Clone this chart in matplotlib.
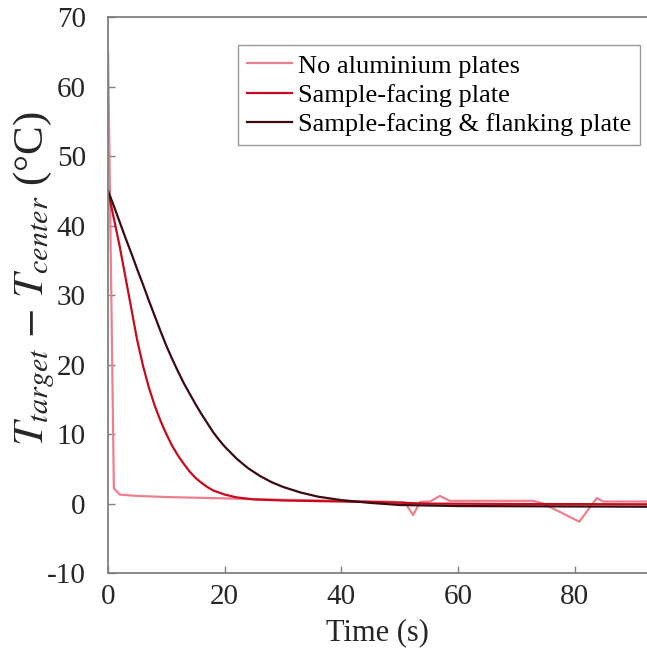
import matplotlib
matplotlib.use("Agg")
import matplotlib.pyplot as plt

plt.rcParams['font.family'] = ['Liberation Serif', 'DejaVu Serif']
plt.rcParams['mathtext.fontset'] = 'stix'
plt.rcParams['axes.unicode_minus'] = False

# values
t_none = [0, 1, 2, 5, 10, 20, 30, 40, 47, 50.9, 52.3, 53.5, 55.2, 56.9, 58.6,
          72.9, 74.6, 80.8, 83.8, 84.9, 93]
dT_none = [65, 2.2, 1.3, 1.1, 0.95, 0.75, 0.55, 0.4, 0.3, 0.2, -1.65, 0.25, 0.3,
           1.1, 0.4, 0.4, 0.0, -2.6, 0.8, 0.3, 0.3]

t_facing = [0, 1, 2, 3, 4, 5, 6, 7, 8, 9, 10, 11, 12, 13, 14, 15, 16, 17, 18,
            20, 22, 25, 30, 40, 47, 55, 70, 93]
dT_facing = [45, 41, 37, 32.5, 28, 23.5, 19.8, 16.7, 14.1, 11.9, 10.0, 8.3,
             6.9, 5.7, 4.6, 3.7, 3.0, 2.4, 1.9, 1.3, 0.9, 0.6, 0.45, 0.3, 0.2,
             0.0, -0.05, -0.1]

t_flank = [0, 1, 2, 3, 4, 5, 6, 7, 8, 9, 10, 11, 12, 13, 14, 15, 16, 17, 18,
           19, 20, 22, 24, 26, 28, 30, 33, 36, 40, 45, 50, 60, 93]
dT_flank = [45, 42.8, 40.5, 38.2, 36, 33.7, 31.5, 29.2, 27, 24.8, 22.7, 20.8,
            19, 17.3, 15.8, 14.3, 12.9, 11.6, 10.3, 9.2, 8.2, 6.5, 5.1, 4.0,
            3.1, 2.4, 1.6, 1.0, 0.5, 0.1, -0.2, -0.35, -0.45]

labels = ['No aluminium plates', 'Sample-facing plate',
          'Sample-facing & flanking plate']
colors = ['#EE7F8E', '#C80A1E', '#3C0A10']

fig = plt.figure(figsize=(6.47, 6.55), dpi=100)
ax = fig.add_axes([0.167, 0.125, 0.833, 0.849])

ax.plot(t_none, dT_none, color=colors[0], lw=1.6, label=labels[0])
ax.plot(t_facing, dT_facing, color=colors[1], lw=1.6, label=labels[1])
ax.plot(t_flank, dT_flank, color=colors[2], lw=1.6, label=labels[2])

ax.set_xlim(0, 92.4)
ax.set_ylim(-10, 70)
ax.set_xticks([0, 20, 40, 60, 80])
ax.set_yticks(range(-10, 71, 10))
ax.tick_params(direction='in', length=5, width=1, colors='#808080',
               labelcolor='#262626', labelsize=21)
ax.tick_params(axis='y', pad=16)
ax.tick_params(axis='x', pad=8)

for side in ['left', 'bottom', 'top']:
    ax.spines[side].set_color('#808080')
    ax.spines[side].set_linewidth(1.3)
ax.spines['right'].set_visible(False)

ax.set_xlabel('Time (s)', fontsize=22, color='#262626', labelpad=6)
ax.set_ylabel(r'$T_{target}$ $-$ $T_{center}$ (°C)', fontsize=31,
              color='#262626')
ax.yaxis.set_label_coords(-0.095, 0.53)

leg = ax.legend(loc='upper right', bbox_to_anchor=(0.987, 0.95),
                fontsize=19, frameon=True, fancybox=False, handlelength=1.7,
                handletextpad=0.2, borderpad=0.35, labelspacing=0.22,
                borderaxespad=0)
leg.get_frame().set_edgecolor('#808080')
leg.get_frame().set_linewidth(1.0)

fig.savefig('out.png', dpi=100)
